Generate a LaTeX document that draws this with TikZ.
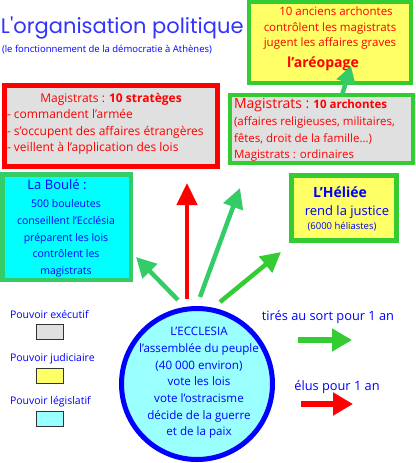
\documentclass[tikz,border=0pt]{standalone}
\usepackage{fontspec}
\setmainfont{Open Sans}
\newfontfamily\titlefont{Poppins}
\usetikzlibrary{arrows.meta,calc}
\definecolor{tblue}{HTML}{0000FF}
\definecolor{tttl}{HTML}{3333FF}
\definecolor{tred}{HTML}{FF0000}
\definecolor{gboule}{HTML}{33CC66}
\definecolor{gbright}{HTML}{33CC33}
\definecolor{boxgray}{HTML}{E0E0E0}
\definecolor{boxyellow}{HTML}{FFFF66}
\definecolor{boxcyan}{HTML}{00FFFF}
\definecolor{lightcyan}{HTML}{99FFFF}
\tikzset{
  txt/.style={inner sep=0pt, outer sep=0pt},
  bluetxt/.style={txt, text=tblue},
  redtxt/.style={txt, text=tred},
  legendbox/.style={draw=black!80, line width=0.8pt, minimum width=27pt, minimum height=15pt, inner sep=0pt},
  bigarrow/.style={line width=4.5pt, -{Triangle[length=20pt,width=20pt]}},
  legarrow/.style={line width=6pt, -{Triangle[length=20pt,width=22pt]}},
}
\newcommand{\dashitem}{\mbox{-}\ }
\begin{document}
\begin{tikzpicture}[x=1pt,y=-1pt]
\useasboundingbox (0,0) rectangle (415,463);
% title
\node[txt, text=tttl, anchor=west, font=\titlefont\fontsize{21}{24}\selectfont] (title) at (1,28) {L'organisation politique};
\node[bluetxt, anchor=west, font=\fontsize{9.5}{11}\selectfont] (subtitle) at (2,50) {(le fonctionnement de la démocratie à Athènes)};

% areopage box
\path[draw=gbright, fill=boxyellow, line width=4pt] (249,2) rectangle (411,83);
\node[redtxt, align=center, font=\fontsize{11.5}{15.5}\selectfont] (areotxt) at (330,28.5) {\hspace*{12pt}10 anciens archontes\\contrôlent les magistrats\\jugent les affaires graves};
\node[redtxt, font=\bfseries\fontsize{14}{16}\selectfont] (areo) at (323,64) {l'aréopage};

% strateges box
\path[draw=tred, fill=boxgray, line width=5pt] (4.5,85.5) rectangle (217.5,166.5);
\node[redtxt, font=\fontsize{12}{14}\selectfont] (strattitle) at (111,99) {Magistrats : \textbf{10 stratèges}};
\node[redtxt, anchor=west, align=left, font=\fontsize{12}{16.3}\selectfont] (strat) at (7,132) {\dashitem commandent l'armée\\\dashitem s'occupent des affaires étrangères\\\dashitem veillent à l'application des lois};

% archontes box
\path[draw=gbright, fill=boxgray, line width=4pt] (230,95) rectangle (413,163);
\node[redtxt, anchor=west, align=left, font=\fontsize{11.5}{16.7}\selectfont] (arch) at (234,130) {{\fontsize{14}{16.7}\selectfont Magistrats :} \textbf{10 archontes}\\(affaires religieuses, militaires,\\fêtes, droit de la famille...)\\Magistrats : ordinaires};

% boule box
\path[draw=gboule, fill=boxcyan, line width=4.5pt] (2.25,174.25) rectangle (130.75,279.75);
\node[bluetxt, font=\fontsize{13}{15}\selectfont] (bouletitle) at (57,185) {La Boulé :};
\node[bluetxt, align=center, font=\fontsize{10.5}{16.75}\selectfont] (boule) at (66,238.5) {500 bouleutes\\conseillent l'Ecclésia\\préparent les lois\\contrôlent les\\magistrats};

% heliee box
\path[draw=gbright, fill=boxyellow, line width=5pt] (291.5,175.5) rectangle (396.5,240.5);
\node[bluetxt, font=\bfseries\fontsize{14}{16}\selectfont] (heliee) at (340,192) {L'Héliée};
\node[bluetxt, font=\fontsize{13}{15}\selectfont] (justice) at (347,212) {rend la justice};
\node[bluetxt, font=\fontsize{9.5}{11}\selectfont] (heliastes) at (342,227) {(6000 héliastes)};

% ecclesia
\node[draw=tblue, fill=lightcyan, line width=5pt, circle, minimum size=151pt, inner sep=0pt] (ecc) at (197,384) {};
\node[bluetxt, align=center, font=\fontsize{11.6}{16.67}\selectfont] (ecctxt) at (199,383) {L'ECCLESIA\\l'assemblée du peuple\\(40 000 environ)\\vote les lois\\vote l'ostracisme\\décide de la guerre\\et de la paix};

% arrows from ecclesia
\coordinate (r1) at (187,299); \coordinate (r2) at (187,183);
\coordinate (g1a) at (178,300); \coordinate (g1b) at (136,257);
\coordinate (g2a) at (200,297); \coordinate (g2b) at (240,188);
\coordinate (g3a) at (220,302); \coordinate (g3b) at (281,252);
\draw[bigarrow, tred, -{Triangle[length=22pt,width=20pt]}] (r1) -- (r2);
\draw[bigarrow, gboule] (g1a) -- (g1b);
\draw[bigarrow, gboule] (g2a) -- (g2b);
\draw[bigarrow, gbright] (g3a) -- (g3b);

% legend
\node[bluetxt, anchor=west, font=\fontsize{10.5}{12}\selectfont] (lexec) at (10,315) {Pouvoir exécutif};
\node[legendbox, fill=boxgray] (bexec) at (49.5,332) {};
\node[bluetxt, anchor=west, font=\fontsize{10.5}{12}\selectfont] (ljud) at (10,359) {Pouvoir judiciaire};
\node[legendbox, fill=boxyellow] (bjud) at (49.5,375.5) {};
\node[bluetxt, anchor=west, font=\fontsize{10.5}{12}\selectfont] (lleg) at (10,402) {Pouvoir législatif};
\node[legendbox, fill=lightcyan] (bleg) at (49.5,418.5) {};

% arrow legend
\node[bluetxt, font=\fontsize{12.8}{14}\selectfont] (tires) at (328,317) {tirés au sort pour 1 an};
\coordinate (lg1) at (298,340); \coordinate (lg2) at (352,340);
\draw[legarrow, gbright] (lg1) -- (lg2);
\node[bluetxt, font=\fontsize{12.8}{14}\selectfont] (elus) at (337,387) {élus pour 1 an};
\coordinate (lr1) at (301,404); \coordinate (lr2) at (353,404);
\draw[legarrow, tred] (lr1) -- (lr2);

% arrow archontes -> areopage
\coordinate (aa1) at (342,95);
\coordinate (aa2) at (351,66);
\draw[bigarrow, gboule, -{Triangle[length=17pt,width=19pt]}] (aa1) -- (aa2);
\end{tikzpicture}
\end{document}
